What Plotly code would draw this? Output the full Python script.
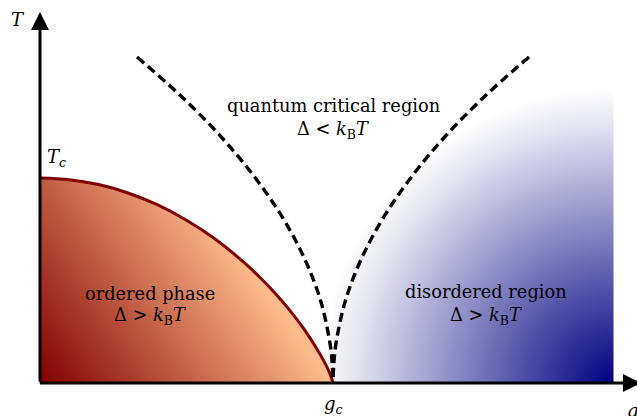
import numpy as np
import plotly.graph_objects as go

# ---- data (g in units of g_c, T in units of T_c) ----
g_boundary = [0, 0.1, 0.2, 0.3, 0.4, 0.5, 0.6, 0.7, 0.75, 0.8, 0.85, 0.9, 0.95, 0.97, 0.99, 1.0]
T_boundary = [1.0, 0.992, 0.968, 0.927, 0.870, 0.794, 0.700, 0.583, 0.516, 0.442, 0.359, 0.265, 0.155, 0.104, 0.044, 0.0]

T_crossover = [1.59, 1.4, 1.2, 1.0, 0.8, 0.6, 0.4, 0.2, 0.1, 0.0]
g_cross_left = [0.331, 0.481, 0.619, 0.735, 0.831, 0.905, 0.958, 0.989, 0.997, 1.0]
g_cross_right = [1.669, 1.519, 1.381, 1.265, 1.169, 1.095, 1.042, 1.011, 1.003, 1.0]

g_c = 1.0
T_c = 1.0
g_disorder_max = 1.956
T_disorder_max = 1.6

# shading profile of the disordered region (distance from its lower-right corner, px -> intensity)
shade_dist = [0, 100, 200, 260, 295]
shade_level = [1.0, 0.66, 0.31, 0.1, 0.0]

# ---- layout geometry ----
W, H = 637, 416
x_range = [-0.13652, 2.03754]
y_range = [-0.16098, 1.86829]
px_x = W / (x_range[1] - x_range[0])
px_y = H / (y_range[1] - y_range[0])

SERIF = "DejaVu Serif"

fig = go.Figure()

# ordered phase: gradient fill under the boundary
gx = np.linspace(0, g_c, 294)
ty = np.linspace(0, T_c, 206)
GG, TT = np.meshgrid(gx, ty)
bound = np.interp(GG, g_boundary, T_boundary)
f_ord = np.clip(1.01 * GG + 0.5 * TT, 0, 1)
f_ord = np.where(TT <= bound, f_ord, np.nan)
fig.add_trace(go.Heatmap(
    x=gx, y=ty, z=f_ord, zmin=0, zmax=1,
    colorscale=[[0, "rgb(128,0,0)"], [0.5, "rgb(192,92,68)"], [1, "rgb(253,186,138)"]],
    showscale=False, hoverinfo="skip"))

# disordered region: radial shading from the lower-right corner
bx = np.linspace(g_c, g_disorder_max, 281)
by = np.linspace(0, T_disorder_max, 330)
BX, BY = np.meshgrid(bx, by)
d = np.sqrt(((g_disorder_max - BX) * px_x) ** 2 + (BY * px_y) ** 2)
f_dis = np.interp(d, shade_dist, shade_level)
fig.add_trace(go.Heatmap(
    x=bx, y=by, z=f_dis, zmin=0, zmax=1,
    colorscale=[[0, "rgb(255,255,255)"], [1, "rgb(0,0,128)"]],
    showscale=False, hoverinfo="skip"))

# phase boundary
fig.add_trace(go.Scatter(
    x=g_boundary, y=T_boundary, mode="lines",
    line=dict(color="rgb(128,0,0)", width=3, shape="spline"),
    hoverinfo="skip", showlegend=False))

# crossover lines
for gl in (g_cross_left, g_cross_right):
    fig.add_trace(go.Scatter(
        x=gl, y=T_crossover, mode="lines",
        line=dict(color="black", width=3.4, dash="9px,5px", shape="spline"),
        hoverinfo="skip", showlegend=False))

annotations = []
# axes with arrows
annotations.append(dict(x=0, y=1.81, ax=0, ay=0, xref="x", yref="y", axref="x", ayref="y",
                        text="", showarrow=True, arrowhead=2, arrowsize=1.2, arrowwidth=3,
                        arrowcolor="black", standoff=0, startstandoff=0))
annotations.append(dict(x=2.051, y=0, ax=-0.005, ay=0, xref="x", yref="y", axref="x", ayref="y",
                        text="", showarrow=True, arrowhead=2, arrowsize=1.2, arrowwidth=3,
                        arrowcolor="black", standoff=0, startstandoff=0))

def label(x, y, text, size=18):
    annotations.append(dict(x=x, y=y, xref="x", yref="y", text=text, showarrow=False,
                            font=dict(family=SERIF, size=size, color="black"),
                            xanchor="center", yanchor="middle"))

label(1.0, 1.356, "quantum critical region", 17.8)
label(1.0, 1.234, "Δ &lt; <i>k</i><sub>B</sub><i>T</i>", 17.8)
label(0.375, 0.439, "ordered phase", 17.8)
label(0.375, 0.327, "Δ &gt; <i>k</i><sub>B</sub><i>T</i>", 17.8)
label(1.522, 0.444, "disordered region", 17.8)
label(1.522, 0.327, "Δ &gt; <i>k</i><sub>B</sub><i>T</i>", 17.8)
label(0.058, 1.098, "<i>T</i><sub><i>c</i></sub>", 18)
label(1.0, -0.107, "<i>g</i><sub><i>c</i></sub>", 18)
label(-0.075, 1.771, "<i>T</i>", 18)
label(2.024, -0.132, "<i>g</i>", 18)

fig.update_layout(
    width=W, height=H,
    margin=dict(l=0, r=0, t=0, b=0),
    paper_bgcolor="white", plot_bgcolor="white",
    showlegend=False,
    xaxis=dict(range=x_range, visible=False, fixedrange=True),
    yaxis=dict(range=y_range, visible=False, fixedrange=True),
    annotations=annotations,
)

fig.write_html("out.html",
               config={"displayModeBar": False, "staticPlot": True},
               post_script="document.body.style.margin='0';document.body.style.overflow='hidden';")
